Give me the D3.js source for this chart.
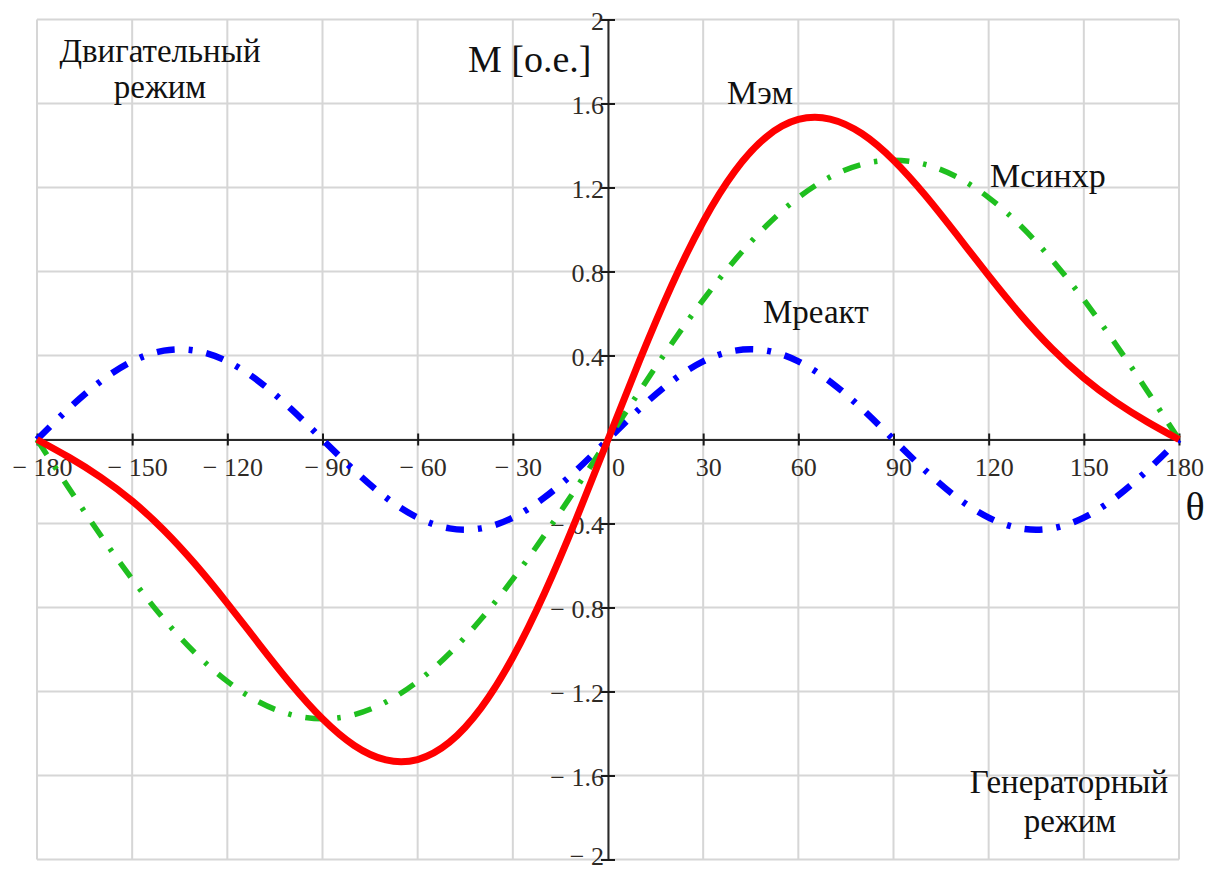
<!DOCTYPE html>
<html>
<head>
<meta charset="utf-8">
<script src="https://cdn.jsdelivr.net/npm/d3@7"></script>
<style>
  html, body { margin: 0; padding: 0; background: #ffffff; }
  svg { display: block; }
  text { font-family: "Liberation Serif", "Times New Roman", serif; }
</style>
</head>
<body>
<svg id="chart" width="1206" height="870"></svg>
<script>
// Load angle θ, degrees
const theta = [-180, -170, -160, -150, -140, -130, -120, -110, -100, -90, -80, -70, -60, -50, -40, -30, -20, -10,
               0, 10, 20, 30, 40, 50, 60, 70, 80, 90, 100, 110, 120, 130, 140, 150, 160, 170, 180];

// Electromagnetic torque Mэм, p.u.
const mEm = [0, -0.084, -0.179, -0.293, -0.432, -0.596, -0.780, -0.974, -1.163, -1.330, -1.457, -1.526, -1.524, -1.442, -1.278, -1.037, -0.731, -0.378,
             0, 0.378, 0.731, 1.037, 1.278, 1.442, 1.524, 1.526, 1.457, 1.330, 1.163, 0.974, 0.780, 0.596, 0.432, 0.293, 0.179, 0.084, 0];

// Synchronous component Мсинхр, p.u.
const mSync = [0, -0.231, -0.455, -0.665, -0.855, -1.019, -1.152, -1.250, -1.310, -1.330, -1.310, -1.250, -1.152, -1.019, -0.855, -0.665, -0.455, -0.231,
               0, 0.231, 0.455, 0.665, 0.855, 1.019, 1.152, 1.250, 1.310, 1.330, 1.310, 1.250, 1.152, 1.019, 0.855, 0.665, 0.455, 0.231, 0];

// Reluctance component Мреакт, p.u.
const mReact = [0, 0.147, 0.276, 0.372, 0.423, 0.423, 0.372, 0.276, 0.147, 0, -0.147, -0.276, -0.372, -0.423, -0.423, -0.372, -0.276, -0.147,
                0, 0.147, 0.276, 0.372, 0.423, 0.423, 0.372, 0.276, 0.147, 0, -0.147, -0.276, -0.372, -0.423, -0.423, -0.372, -0.276, -0.147, 0];

// Axis ticks
const xTicks = [-180, -150, -120, -90, -60, -30, 0, 30, 60, 90, 120, 150, 180];
const yTicks = [-2, -1.6, -1.2, -0.8, -0.4, 0, 0.4, 0.8, 1.2, 1.6, 2];
const yLabelTicks = [-2, -1.6, -1.2, -0.8, -0.4, 0.4, 0.8, 1.2, 1.6, 2];

const svg = d3.select("#chart");

const x = d3.scaleLinear().domain([-180, 180]).range([37, 1179]);
const y = d3.scaleLinear().domain([-2, 2]).range([859.5, 19.5]);

const fmt = d => d < 0 ? "\u2212 " + Math.abs(d) : String(d);

// grid
const grid = svg.append("g").attr("stroke", "#d6d6d6").attr("stroke-width", 2);
grid.selectAll("line.v").data(xTicks).join("line")
  .attr("x1", d => x(d)).attr("x2", d => x(d))
  .attr("y1", y(2)).attr("y2", y(-2));
grid.selectAll("line.h").data(yTicks).join("line")
  .attr("x1", x(-180)).attr("x2", x(180))
  .attr("y1", d => y(d)).attr("y2", d => y(d));

// axes through the origin
const xAxis = svg.append("g")
  .attr("transform", `translate(0,${y(0)})`)
  .call(d3.axisBottom(x).tickValues(xTicks).tickFormat(fmt).tickSizeOuter(0));
const yAxis = svg.append("g")
  .attr("transform", `translate(${x(0)},0)`)
  .call(d3.axisLeft(y).tickValues(yLabelTicks).tickFormat(fmt).tickSizeOuter(0));

[xAxis, yAxis].forEach(g => {
  g.attr("font-family", "'Liberation Serif', 'Times New Roman', serif").attr("font-size", 26);
  g.select(".domain").attr("stroke", "#2a2a2a").attr("stroke-width", 2);
  g.selectAll(".tick line").attr("stroke", "#1a1a1a").attr("stroke-width", 2);
  g.selectAll(".tick text").attr("fill", "#2f2a25");
});

xAxis.selectAll(".tick line").attr("y1", -6).attr("y2", 6);
xAxis.selectAll(".tick text")
  .attr("y", 36).attr("dy", null)
  .attr("x", d => d === 0 ? 10 : 5);

yAxis.selectAll(".tick line").attr("x1", -7).attr("x2", 7);
yAxis.selectAll(".tick text")
  .attr("x", -4)
  .attr("y", d => d === -2 ? -3 : 2);

// curves
const line = d3.line()
  .x((d, i) => x(theta[i]))
  .y(d => y(d))
  .curve(d3.curveNatural);

const curves = svg.append("g").attr("fill", "none");
curves.append("path").datum(mReact)
  .attr("d", line)
  .attr("stroke", "#0000ff").attr("stroke-width", 6.5)
  .attr("stroke-dasharray", "18 14 4 14");
curves.append("path").datum(mSync)
  .attr("d", line)
  .attr("stroke", "#1fbf1f").attr("stroke-width", 5.5)
  .attr("stroke-dasharray", "18 14 3.5 14");
curves.append("path").datum(mEm)
  .attr("d", line)
  .attr("stroke", "#ff0000").attr("stroke-width", 7)
  .attr("stroke-linejoin", "round");

// labels
const labels = svg.append("g").attr("fill", "#111");
labels.append("text").attr("x", 468).attr("y", 72).attr("font-size", 38).text("M [o.e.]");
labels.append("text").attr("x", 1195).attr("y", 520).attr("font-size", 40)
  .attr("text-anchor", "middle").text("θ");

labels.append("text").attr("x", 727).attr("y", 104).attr("font-size", 34).text("Мэм");
labels.append("text").attr("x", 990).attr("y", 187).attr("font-size", 34).text("Мсинхр");
labels.append("text").attr("x", 763).attr("y", 323).attr("font-size", 33).text("Мреакт");

labels.append("text").attr("x", 160).attr("y", 62).attr("font-size", 33)
  .attr("text-anchor", "middle").text("Двигательный");
labels.append("text").attr("x", 160).attr("y", 98).attr("font-size", 33)
  .attr("text-anchor", "middle").text("режим");
labels.append("text").attr("x", 1069).attr("y", 793).attr("font-size", 33)
  .attr("text-anchor", "middle").text("Генераторный");
labels.append("text").attr("x", 1070).attr("y", 832).attr("font-size", 33)
  .attr("text-anchor", "middle").text("режим");
</script>
</body>
</html>
